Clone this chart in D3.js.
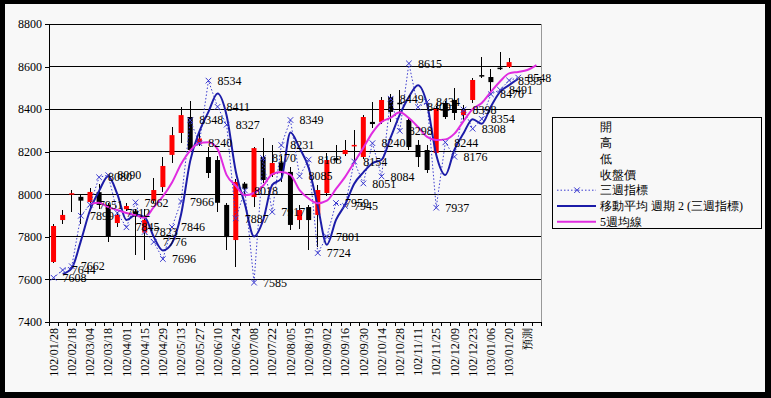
<!DOCTYPE html>
<html>
<head>
<meta charset="utf-8">
<script src="https://cdn.jsdelivr.net/npm/d3@7"></script>
<style>
  body { margin: 0; background: #000; }
  svg text { font-family: "Liberation Serif", "DejaVu Serif", serif; }
</style>
</head>
<body>
<div id="chart"></div>
<script>
(function() {
    "use strict";

    // weekly categories (every 2nd one gets a tick label)
    const weeks = [
        "102/01/28", "102/02/04", "102/02/18", "102/02/25", "102/03/04", "102/03/11",
        "102/03/18", "102/03/25", "102/04/01", "102/04/08", "102/04/15", "102/04/22",
        "102/04/29", "102/05/06", "102/05/13", "102/05/20", "102/05/27", "102/06/03",
        "102/06/10", "102/06/17", "102/06/24", "102/07/01", "102/07/08", "102/07/15",
        "102/07/22", "102/07/29", "102/08/05", "102/08/12", "102/08/19", "102/08/26",
        "102/09/02", "102/09/09", "102/09/16", "102/09/23", "102/09/30", "102/10/07",
        "102/10/14", "102/10/21", "102/10/28", "102/11/04", "102/11/11", "102/11/18",
        "102/11/25", "102/12/02", "102/12/09", "102/12/16", "102/12/23", "102/12/30",
        "103/01/06", "103/01/13", "103/01/20", "103/01/27", "預測", ""
    ];

    // 開 高 低 收盤價
    const opens  = [7682, 7879, 8002, 7988, 7964, 8010, 7950, 7865, 7930, 7920,
                    7820, 7970, 8034, 8185, 8288, 8363, 8235, 8175, 8161, 7950,
                    7785, 8050, 7987, 8175, 8091, 8150, 8105, 7879, 7940, 7903,
                    8006, 8170, 8189, 8228, 8175, 8340, 8340, 8457, 8430, 8349,
                    8232, 8208, 8194, 8429, 8443, 8372, 8443, 8560, 8551, 8595, 8598];
    const highs  = [7860, 7926, 8020, 7995, 8030, 8050, 7960, 7917, 7960, 7930,
                    7930, 8075, 8175, 8316, 8410, 8438, 8290, 8222, 8180, 7960,
                    8070, 8060, 8220, 8264, 8232, 8180, 8130, 7950, 7950, 8044,
                    8194, 8232, 8255, 8300, 8372, 8434, 8455, 8470, 8490, 8360,
                    8255, 8230, 8415, 8440, 8499, 8420, 8546, 8645, 8588, 8668, 8640];
    const lows   = [7675, 7860, 7917, 7860, 7940, 7930, 7776, 7846, 7920, 7715,
                    7690, 7960, 8011, 8147, 8241, 8199, 8225, 8077, 7915, 7738,
                    7658, 7990, 7940, 8053, 8080, 8060, 7830, 7835, 7738, 7752,
                    7990, 8147, 8180, 8150, 8165, 8311, 8330, 8340, 8380, 8210,
                    8128, 8100, 8180, 8355, 8349, 8340, 8430, 8546, 8480, 8585, 8595];
    const closes = [7851, 7903, 8005, 7970, 8011, 7950, 7800, 7903, 7945, 7900,
                    7880, 8020, 8133, 8278, 8372, 8208, 8262, 8100, 7960, 7799,
                    8058, 8026, 8217, 8067, 8147, 8110, 7856, 7926, 7879, 8020,
                    8161, 8160, 8208, 8232, 8363, 8330, 8443, 8387, 8425, 8222,
                    8175, 8114, 8405, 8363, 8382, 8396, 8537, 8555, 8527, 8590, 8621];

    // 三週指標
    const index3w = [7608, 7644, 7662, 7899, 7951, 8080, 8090, 7912, 7845, 7962,
                     7823, 7776, 7696, 7846, 7966, 8348, 8240, 8534, 8411, 8327,
                     7887, 8018, 7585, 8170, 7917, 8231, 8349, 8085, 8163, 7724,
                     7801, 7959, 7945, 8154, 8051, 8240, 8084, 8449, 8298, 8615,
                     8409, 8434, 7937, 8244, 8176, 8398, 8308, 8354, 8470, 8491,
                     8535, 8548];

    // 移動平均 週期 2 (三週指標), starts at week 1
    const ma2 = [null, 7626, 7653, 7781, 7925, 8016, 8085, 8001, 7879, 7904,
                 7893, 7800, 7736, 7771, 7906, 8157, 8294, 8387, 8473, 8369,
                 8107, 7953, 7802, 7878, 8044, 8074, 8290, 8217, 8124, 7944,
                 7763, 7880, 7952, 8050, 8103, 8146, 8162, 8267, 8374, 8457,
                 8512, 8422, 8186, 8091, 8210, 8287, 8353, 8331, 8412, 8481,
                 8513, 8542];

    // 5週均線
    const ma5 = [null, null, null, null, 7955, 7960, 7940, 7926, 7912, 7902,
                 7890, 7940, 7990, 8055, 8142, 8205, 8241, 8244, 8212, 8090,
                 8040, 7995, 8006, 8040, 8095, 8105, 8091, 8020, 7980, 7958,
                 7970, 8025, 8082, 8150, 8218, 8290, 8340, 8360, 8385, 8358,
                 8316, 8270, 8255, 8258, 8285, 8344, 8400, 8429, 8481, 8530,
                 8568, 8575, 8584, 8607];

    const yTicks = [7400, 7600, 7800, 8000, 8200, 8400, 8600, 8800];

    const legendItems = ["開", "高", "低", "收盤價", "三週指標", "移動平均  週期 2 (三週指標)", "5週均線"];

    const width = 771, height = 398;
    const plot = {left: 49, right: 541, top: 24, bottom: 322};

    const svg = d3.select("#chart").append("svg")
        .attr("width", width).attr("height", height);

    svg.append("rect").attr("width", width).attr("height", height).attr("fill", "#000");
    svg.append("rect").attr("x", 5).attr("y", 4).attr("width", 760).attr("height", 388)
        .attr("fill", "#f8f8f8");

    const x = d3.scaleBand().domain(d3.range(weeks.length)).range([plot.left, plot.right]);
    const cx = i => x(i) + x.bandwidth() / 2;
    const y = d3.scaleLinear().domain([7400, 8800]).range([plot.bottom, plot.top]);

    // gridlines
    svg.append("g").selectAll("line")
        .data(yTicks.slice(1))
        .enter().append("line")
        .attr("x1", plot.left).attr("x2", plot.right)
        .attr("y1", d => y(d)).attr("y2", d => y(d))
        .attr("stroke", "#000").attr("stroke-width", 1).attr("shape-rendering", "crispEdges");

    // right border of plot
    svg.append("line")
        .attr("x1", plot.right).attr("x2", plot.right)
        .attr("y1", plot.top).attr("y2", plot.bottom)
        .attr("stroke", "#999").attr("shape-rendering", "crispEdges");

    // y axis
    const yAxis = svg.append("g")
        .attr("transform", "translate(" + plot.left + ",0)")
        .call(d3.axisLeft(y).tickValues(yTicks).tickSize(4).tickPadding(3).tickFormat(d => d));
    yAxis.selectAll("path, line").attr("stroke", "#000").attr("shape-rendering", "crispEdges");
    yAxis.selectAll("text").attr("font-size", 12).attr("fill", "#000")
        .attr("font-family", "Liberation Serif");

    // x axis: tick marks between categories
    const xEdge = d3.scaleLinear().domain([0, weeks.length]).range([plot.left, plot.right]);
    const xTicks = svg.append("g")
        .attr("transform", "translate(0," + plot.bottom + ")")
        .call(d3.axisBottom(xEdge).tickValues(d3.range(weeks.length + 1)).tickSize(4).tickFormat(""));
    xTicks.selectAll("path, line").attr("stroke", "#000").attr("shape-rendering", "crispEdges");

    // x axis labels (every other week)
    const xAxis = svg.append("g")
        .attr("transform", "translate(0," + plot.bottom + ")")
        .call(d3.axisBottom(x).tickSize(0).tickFormat(i => i % 2 === 0 ? weeks[i] : ""));
    xAxis.select(".domain").remove();
    xAxis.selectAll("text")
        .attr("font-size", 12).attr("fill", "#000")
        .attr("transform", "rotate(-90)")
        .attr("x", -6).attr("y", 0).attr("dy", "0.35em")
        .style("text-anchor", "end");
    xAxis.selectAll("text").filter(i => weeks[i] === "預測")
        .attr("font-family", "Noto Sans CJK TC").attr("font-size", 11);

    // candles
    const candles = svg.append("g");
    candles.selectAll("line")
        .data(d3.range(opens.length))
        .enter().append("line")
        .attr("x1", i => cx(i)).attr("x2", i => cx(i))
        .attr("y1", i => y(highs[i])).attr("y2", i => y(lows[i]))
        .attr("stroke", "#000").attr("stroke-width", 1).attr("shape-rendering", "crispEdges");
    candles.selectAll("rect")
        .data(d3.range(opens.length))
        .enter().append("rect")
        .attr("x", i => cx(i) - 2.5).attr("width", 5)
        .attr("y", i => y(Math.max(opens[i], closes[i])))
        .attr("height", i => Math.max(1.5, Math.abs(y(opens[i]) - y(closes[i]))))
        .attr("fill", i => closes[i] >= opens[i] ? "#ff0000" : "#000");

    // 三週指標 dotted line
    const line3 = d3.line().x((d, i) => cx(i)).y(d => y(d));
    svg.append("path").datum(index3w)
        .attr("d", line3).attr("fill", "none")
        .attr("stroke", "#3a3ad0").attr("stroke-width", 1).attr("stroke-dasharray", "1.5,2");

    // smoothed lines for the averages
    const lineSmooth = d3.line()
        .defined(d => d !== null)
        .x((d, i) => cx(i)).y(d => y(d))
        .curve(d3.curveMonotoneX);

    svg.append("path").datum(ma2)
        .attr("d", lineSmooth)
        .attr("fill", "none").attr("stroke", "#1c1ca8").attr("stroke-width", 2);

    svg.append("path").datum(ma5)
        .attr("d", lineSmooth)
        .attr("fill", "none").attr("stroke", "#e02ce0").attr("stroke-width", 2);

    // markers
    const s = 2.8;
    const cross = (px, py) => "M" + (px - s) + "," + (py - s) + "L" + (px + s) + "," + (py + s) +
                              "M" + (px - s) + "," + (py + s) + "L" + (px + s) + "," + (py - s);
    svg.append("g").selectAll("path")
        .data(index3w)
        .enter().append("path")
        .attr("d", (d, i) => cross(cx(i), y(d)))
        .attr("stroke", "#3a3ad0").attr("stroke-width", 1).attr("fill", "none");

    // data labels
    svg.append("g").selectAll("text")
        .data(index3w)
        .enter().append("text")
        .attr("x", (d, i) => cx(i) + 9)
        .attr("y", d => y(d))
        .attr("dy", "0.35em")
        .attr("font-size", 12).attr("fill", "#000")
        .text(d => d);

    // legend
    const lg = svg.append("g");
    lg.append("rect").attr("x", 552.5).attr("y", 117.5).attr("width", 209).attr("height", 111)
        .attr("fill", "#f8f8f8").attr("stroke", "#000");
    const ly = i => 127 + i * 15.8;
    lg.selectAll("text")
        .data(legendItems)
        .enter().append("text")
        .attr("x", 600).attr("y", (d, i) => ly(i)).attr("dy", "0.35em")
        .attr("font-family", "Noto Sans CJK TC").attr("font-size", 12)
        .attr("fill", "#000")
        .text(d => d);
    lg.append("line").attr("x1", 557).attr("x2", 596).attr("y1", ly(4)).attr("y2", ly(4))
        .attr("stroke", "#3a3ad0").attr("stroke-dasharray", "1.5,2");
    lg.append("path").attr("d", cross(577, ly(4)))
        .attr("stroke", "#3a3ad0").attr("fill", "none");
    lg.append("line").attr("x1", 557).attr("x2", 596).attr("y1", ly(5)).attr("y2", ly(5))
        .attr("stroke", "#1c1ca8").attr("stroke-width", 2);
    lg.append("line").attr("x1", 557).attr("x2", 596).attr("y1", ly(6)).attr("y2", ly(6))
        .attr("stroke", "#e02ce0").attr("stroke-width", 2);
})();
</script>
</body>
</html>
